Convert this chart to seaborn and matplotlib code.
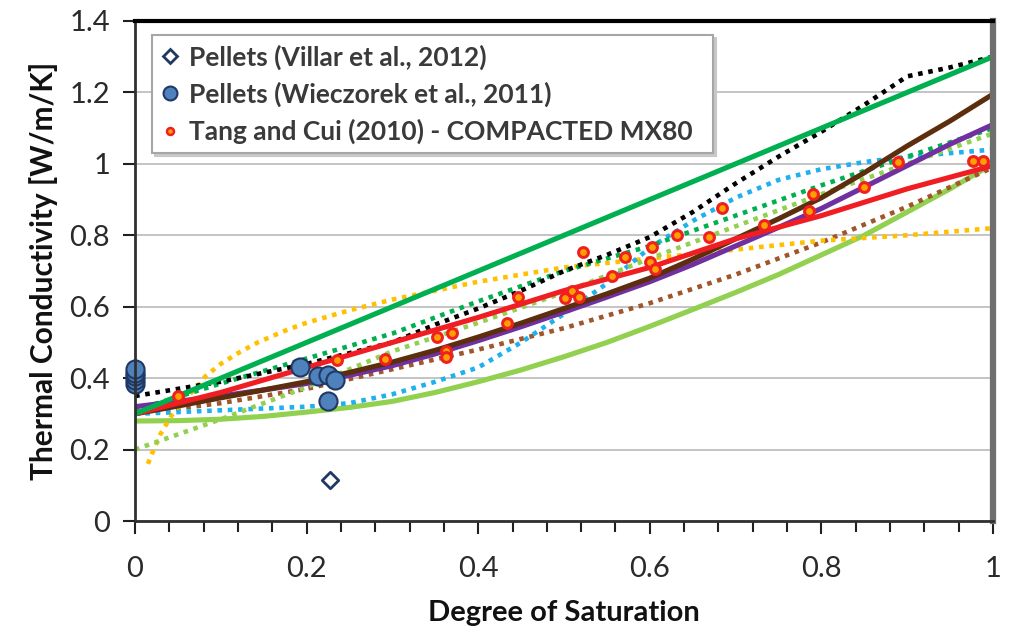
import matplotlib
matplotlib.use("Agg")
import matplotlib.pyplot as plt
from matplotlib.lines import Line2D
from matplotlib.ticker import MultipleLocator, FuncFormatter
import seaborn as sns

# ---- model curves: thermal conductivity vs degree of saturation ----
sr = [0.0, 0.1, 0.2, 0.3, 0.4, 0.5, 0.6, 0.7, 0.8, 0.9, 1.0]
sr_fine = [0.0, 0.05, 0.1, 0.15, 0.2, 0.25, 0.3, 0.35, 0.4, 0.45, 0.5,
           0.55, 0.6, 0.65, 0.7, 0.75, 0.8, 0.85, 0.9, 0.95, 1.0]

k_dark_green = [0.30, 0.40, 0.50, 0.60, 0.70, 0.80, 0.90, 1.00, 1.10, 1.20, 1.30]
k_red = [0.30, 0.36, 0.43, 0.50, 0.57, 0.645, 0.71, 0.79, 0.855, 0.93, 0.995]
k_green_dot = [0.31, 0.385, 0.455, 0.525, 0.615, 0.70, 0.77, 0.855, 0.94, 1.02, 1.10]
k_lgreen_dot = [0.20, 0.285, 0.375, 0.475, 0.555, 0.64, 0.735, 0.825, 0.915, 1.00, 1.085]
k_brown_dot = [0.30, 0.33, 0.37, 0.425, 0.48, 0.54, 0.61, 0.69, 0.78, 0.88, 0.99]

k_light_green = [0.28, 0.281, 0.285, 0.293, 0.305, 0.318, 0.335, 0.36, 0.39, 0.423,
                 0.46, 0.50, 0.545, 0.592, 0.64, 0.69, 0.745, 0.80, 0.865, 0.93, 1.00]
k_brown = [0.30, 0.322, 0.345, 0.367, 0.39, 0.416, 0.445, 0.478, 0.515, 0.554, 0.595,
           0.636, 0.68, 0.733, 0.79, 0.846, 0.905, 0.975, 1.05, 1.12, 1.195]
k_purple = [0.32, 0.335, 0.35, 0.367, 0.385, 0.408, 0.435, 0.468, 0.505, 0.544, 0.585,
            0.627, 0.67, 0.718, 0.77, 0.822, 0.875, 0.935, 0.995, 1.055, 1.11]
k_black_dot = [0.35, 0.37, 0.39, 0.415, 0.44, 0.47, 0.50, 0.55, 0.595, 0.645, 0.70,
               0.745, 0.795, 0.865, 0.945, 1.02, 1.09, 1.165, 1.245, 1.27, 1.30]

sr_blue = [0.0, 0.1, 0.2, 0.25, 0.3, 0.35, 0.4, 0.45, 0.5, 0.55, 0.6, 0.65,
           0.7, 0.75, 0.8, 0.85, 0.9, 0.95, 1.0]
k_blue_dot = [0.30, 0.31, 0.32, 0.33, 0.355, 0.39, 0.43, 0.50, 0.58, 0.665, 0.765,
              0.84, 0.905, 0.955, 0.985, 1.005, 1.02, 1.03, 1.04]

sr_orange = [0.015, 0.02, 0.03, 0.043, 0.06, 0.072, 0.082, 0.1, 0.12, 0.143, 0.177,
             0.2, 0.25, 0.3, 0.4, 0.5, 0.6, 0.7, 0.8, 0.9, 1.0]
k_orange_dot = [0.16, 0.19, 0.245, 0.297, 0.345, 0.375, 0.405, 0.44, 0.47, 0.50,
                0.535, 0.555, 0.59, 0.62, 0.67, 0.71, 0.735, 0.76, 0.785, 0.80, 0.82]

# ---- measurements ----
villar_sr = [0.227]
villar_k = [0.115]

wieczorek_sr = [0.0, 0.0, 0.0, 0.0, 0.0, 0.192, 0.213, 0.225, 0.233, 0.225]
wieczorek_k = [0.385, 0.395, 0.405, 0.415, 0.425, 0.43, 0.405, 0.41, 0.395, 0.335]

tang_sr = [0.05, 0.235, 0.291, 0.352, 0.362, 0.362, 0.369, 0.433, 0.446, 0.501,
           0.509, 0.517, 0.522, 0.556, 0.571, 0.600, 0.603, 0.606, 0.632, 0.669,
           0.684, 0.733, 0.786, 0.790, 0.850, 0.889, 0.977, 0.988]
tang_k = [0.35, 0.45, 0.454, 0.516, 0.476, 0.46, 0.527, 0.555, 0.628, 0.625,
          0.645, 0.627, 0.753, 0.686, 0.74, 0.726, 0.768, 0.706, 0.80, 0.795,
          0.877, 0.829, 0.868, 0.916, 0.936, 1.006, 1.008, 1.008]

legend_labels = ["Pellets (Villar et al., 2012)",
                 "Pellets (Wieczorek et al., 2011)",
                 "Tang and Cui (2010) - COMPACTED MX80"]

sns.set_style("white")
plt.rcParams["font.family"] = ["Lato", "DejaVu Sans"]

fig = plt.figure(figsize=(10.13, 6.32), dpi=100)
ax = fig.add_axes([0.1333, 0.1756, 0.8469, 0.7912])

dot = (0, (1, 1.25))
solid_lw = 3.7
dot_lw = 3.3

curves = [
    (sr_fine, k_light_green, "#92D050", "-", solid_lw),
    (sr, k_brown_dot, "#A0552A", dot, dot_lw),
    (sr_orange, k_orange_dot, "#FFC000", dot, dot_lw),
    (sr_blue, k_blue_dot, "#1FB0EE", dot, dot_lw),
    (sr, k_lgreen_dot, "#92D050", dot, dot_lw),
    (sr, k_green_dot, "#00B050", dot, dot_lw),
    (sr_fine, k_black_dot, "#000000", dot, dot_lw),
    (sr_fine, k_purple, "#7030A0", "-", solid_lw),
    (sr_fine, k_brown, "#5C2E0E", "-", solid_lw),
    (sr, k_red, "#F01E23", "-", solid_lw),
    (sr, k_dark_green, "#00B050", "-", solid_lw),
]
for xs, ys, col, ls, lw in curves:
    sns.lineplot(x=xs, y=ys, ax=ax, color=col, linestyle=ls, linewidth=lw,
                 dash_capstyle="butt", solid_capstyle="butt",
                 solid_joinstyle="round", legend=False, zorder=3)

sns.scatterplot(x=tang_sr, y=tang_k, ax=ax, marker="o", s=50,
                facecolor="#FFA000", edgecolor="#F02020", linewidth=2.2,
                zorder=5, legend=False)
sns.scatterplot(x=wieczorek_sr, y=wieczorek_k, ax=ax, marker="o", s=170,
                facecolor="#4F81BD", edgecolor="#1F3864", linewidth=1.5,
                zorder=6, legend=False, clip_on=False)
sns.scatterplot(x=villar_sr, y=villar_k, ax=ax, marker="D", s=70,
                facecolor="white", edgecolor="#1F3864", linewidth=2.0,
                zorder=6, legend=False)

ax.set_xlim(0, 1)
ax.set_ylim(0, 1.4)

ax.yaxis.set_major_locator(MultipleLocator(0.2))
ax.xaxis.set_major_locator(MultipleLocator(0.2))
ax.xaxis.set_minor_locator(MultipleLocator(0.04))
fmt = FuncFormatter(lambda v, p: "0" if abs(v) < 1e-9 else ("%g" % round(v, 2)))
ax.xaxis.set_major_formatter(fmt)
ax.yaxis.set_major_formatter(fmt)

ax.grid(axis="y", color="#BFBFBF", linewidth=1.3, zorder=0)
ax.grid(axis="x", visible=False)
ax.set_axisbelow(True)

ax.tick_params(axis="y", which="major", direction="out", length=9, width=1.5,
               color="#202020", labelsize=21, pad=9, labelcolor="#2A2A2A", left=True)
ax.tick_params(axis="x", which="major", direction="out", length=9, width=1.5,
               color="#202020", labelsize=21, pad=16, labelcolor="#2A2A2A", bottom=True)
ax.tick_params(axis="x", which="minor", direction="out", length=8, width=1.5,
               color="#202020", bottom=True)

for side in ("left", "bottom"):
    ax.spines[side].set_color("#303030")
    ax.spines[side].set_linewidth(2)
ax.spines["top"].set_color("#000000")
ax.spines["top"].set_linewidth(3)
ax.spines["right"].set_color("#6E6E6E")
ax.spines["right"].set_linewidth(4.5)
for sp in ax.spines.values():
    sp.set_zorder(7)

ax.set_xlabel("Degree of Saturation", fontsize=21, fontweight="bold",
              color="#111111", labelpad=13)
ax.set_ylabel("Thermal Conductivity [W/m/K]", fontsize=21.5, fontweight="bold",
              color="#111111", labelpad=8)

handles = [
    Line2D([], [], ls="", marker="D", ms=7, mfc="white", mec="#1F3864", mew=2),
    Line2D([], [], ls="", marker="o", ms=10, mfc="#4F81BD", mec="#1F3864", mew=1.5),
    Line2D([], [], ls="", marker="o", ms=5, mfc="#FFA000", mec="#F02020", mew=1.8),
]
leg = ax.legend(handles, legend_labels, loc="upper left",
                bbox_to_anchor=(0.0198, 0.736, 0.654, 0.236), mode="expand",
                frameon=True, fancybox=False, edgecolor="#A6A6A6",
                shadow={"color": "#C8C8C8", "alpha": 1.0},
                prop={"weight": "bold", "size": 19}, handletextpad=0.35,
                handlelength=0.7, labelspacing=0.45, borderpad=0.35,
                borderaxespad=0)
leg.get_frame().set_linewidth(1.5)
for t in leg.get_texts():
    t.set_color("#3A3A3A")
leg.set_zorder(10)

fig.savefig("out.png", dpi=100)
